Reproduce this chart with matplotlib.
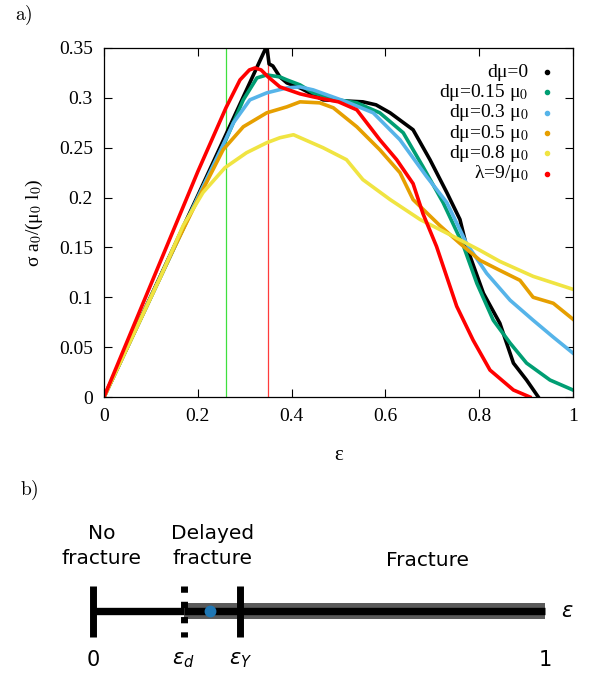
import matplotlib
matplotlib.use("Agg")
import matplotlib.pyplot as plt
from matplotlib.lines import Line2D

# --- panel a) stress-strain curves (read off the figure) ---
eps_d0 = [0, 0.2, 0.347, 0.352, 0.36, 0.375, 0.39, 0.418, 0.467, 0.552, 0.58, 0.61,
          0.659, 0.695, 0.731, 0.759, 0.773, 0.809, 0.844, 0.873, 0.901, 0.926]
sig_d0 = [0, 0.202, 0.352, 0.334, 0.332, 0.321, 0.315, 0.310, 0.298, 0.296, 0.293, 0.285,
          0.268, 0.238, 0.205, 0.178, 0.151, 0.104, 0.074, 0.034, 0.017, 0.0]

eps_d15 = [0, 0.2, 0.26, 0.297, 0.326, 0.347, 0.375, 0.39, 0.418, 0.446, 0.5, 0.539,
           0.588, 0.638, 0.68, 0.723, 0.766, 0.795, 0.83, 0.866, 0.901, 0.951, 1.0]
sig_d15 = [0, 0.2, 0.258, 0.298, 0.32, 0.323, 0.321, 0.318, 0.313, 0.305, 0.298, 0.295,
           0.285, 0.265, 0.231, 0.195, 0.152, 0.114, 0.077, 0.054, 0.034, 0.017, 0.007]

eps_d3 = [0, 0.2, 0.25, 0.276, 0.311, 0.347, 0.39, 0.418, 0.446, 0.517, 0.574, 0.631,
          0.688, 0.731, 0.773, 0.816, 0.866, 0.915, 0.958, 1.0]
sig_d3 = [0, 0.2, 0.249, 0.275, 0.298, 0.305, 0.31, 0.311, 0.308, 0.296, 0.285, 0.258,
          0.221, 0.195, 0.154, 0.124, 0.097, 0.077, 0.06, 0.044]

eps_d5 = [0, 0.15, 0.2, 0.254, 0.297, 0.347, 0.39, 0.418, 0.46, 0.489, 0.539, 0.588,
          0.631, 0.659, 0.716, 0.759, 0.802, 0.844, 0.887, 0.915, 0.958, 1.0]
sig_d5 = [0, 0.15, 0.198, 0.248, 0.271, 0.285, 0.291, 0.296, 0.295, 0.29, 0.271, 0.248,
          0.225, 0.198, 0.172, 0.154, 0.137, 0.127, 0.117, 0.1, 0.094, 0.078]

eps_d8 = [0, 0.12, 0.169, 0.211, 0.258, 0.304, 0.347, 0.375, 0.404, 0.467, 0.517, 0.552,
          0.61, 0.674, 0.745, 0.802, 0.844, 0.915, 1.0]
sig_d8 = [0, 0.12, 0.172, 0.205, 0.23, 0.245, 0.255, 0.26, 0.263, 0.25, 0.238, 0.218,
          0.198, 0.178, 0.161, 0.147, 0.136, 0.121, 0.108]

eps_lam = [0, 0.1, 0.2, 0.26, 0.29, 0.31, 0.322, 0.335, 0.35, 0.375, 0.418, 0.446, 0.5,
           0.539, 0.588, 0.624, 0.659, 0.68, 0.709, 0.752, 0.787, 0.823, 0.873, 0.908]
sig_lam = [0, 0.113, 0.226, 0.29, 0.318, 0.328, 0.330, 0.328, 0.321, 0.311, 0.304, 0.301, 0.296,
           0.288, 0.258, 0.238, 0.214, 0.184, 0.151, 0.091, 0.057, 0.027, 0.007, 0.0]

series = [
    (eps_d0, sig_d0, "dμ=0", "black"),
    (eps_d15, sig_d15, "dμ=0.15 μ$_0$", "#009e73"),
    (eps_d3, sig_d3, "dμ=0.3 μ$_0$", "#56b4e9"),
    (eps_d5, sig_d5, "dμ=0.5 μ$_0$", "#e69f00"),
    (eps_d8, sig_d8, "dμ=0.8 μ$_0$", "#f0e442"),
    (eps_lam, sig_lam, "λ=9/μ$_0$", "#ff0000"),
]
eps_green = 0.26
eps_red = 0.35
xticks = [0, 0.2, 0.4, 0.6, 0.8, 1]
xticklabels = ["0", "0.2", "0.4", "0.6", "0.8", "1"]
yticks = [0, 0.05, 0.1, 0.15, 0.2, 0.25, 0.3, 0.35]
yticklabels = ["0", "0.05", "0.1", "0.15", "0.2", "0.25", "0.3", "0.35"]

# --- panel b) regime diagram ---
regime_ticks = [0, 0.2, 0.325, 1]
regime_ticklabels = ["0", r"$\varepsilon_d$", r"$\varepsilon_Y$", "1"]
eps_point = 0.258
regime_labels = [(0.018, "No\nfracture", 65), (0.263, "Delayed\nfracture", 65),
                 (0.74, "Fracture", 51)]

SERIF = "Liberation Serif"
W, H = 590, 673
fig = plt.figure(figsize=(W / 100, H / 100), dpi=100)

ax = fig.add_axes([104 / W, 1 - 397 / H, 469 / W, 349 / H])
ax.axvline(eps_green, color="#3ee03e", lw=0.9, zorder=1)
ax.axvline(eps_red, color="#ff3b3b", lw=0.9, zorder=1)
for x, y, lab, col in series:
    ax.plot(x, y, color=col, lw=2.6, solid_joinstyle="round", zorder=2)
ax.set_xlim(0, 1)
ax.set_ylim(0, 0.35)
ax.set_xticks(xticks)
ax.set_xticklabels(xticklabels, family=SERIF, fontsize=14)
ax.set_yticks(yticks)
ax.set_yticklabels(yticklabels, family=SERIF, fontsize=14)
ax.tick_params(direction="in", length=6, width=0.8, top=True, right=True, pad=8)
for s in ax.spines.values():
    s.set_linewidth(0.9)
ax.set_xlabel("ε", family=SERIF, fontsize=15, labelpad=15)
ax.set_ylabel("σ a$_0$/(μ$_0$ l$_0$)", family=SERIF, fontsize=14, labelpad=10,
              math_fontfamily="stix")

# gnuplot-style key: right-aligned text, small point after it
for i, (x, y, lab, col) in enumerate(series):
    yy = 0.931 - i * 0.0582
    ax.text(0.905, yy, lab, transform=ax.transAxes, ha="right", va="center",
            family=SERIF, fontsize=14, math_fontfamily="stix")
    ax.add_line(Line2D([0.9446], [yy], transform=ax.transAxes, marker="o", ms=3,
                       color=col, ls="none", clip_on=False))

fig.text(15 / W, 1 - 15 / H, r"$\mathrm{a)}$", fontsize=14, math_fontfamily="cm",
         va="center", ha="left")

# --- panel b ---
ax2 = fig.add_axes([0, 0, 1, 200 / H])
ax2.set_xlim(-93.3 / 451.7, (W - 93.3) / 451.7)
ax2.set_ylim(-62, 138)
ax2.axis("off")
e0, ed, ey, e1 = regime_ticks
ax2.plot([e0, ed], [0, 0], color="black", lw=5.3, solid_capstyle="butt")
ax2.plot([ed, e1], [0, 0], color="#5a5a5a", lw=11.5, solid_capstyle="butt")
ax2.plot([ed, e1], [0, 0], color="black", lw=5.3, solid_capstyle="butt")
ax2.plot([e0, e0], [-26, 25], color="black", lw=5, solid_capstyle="butt")
ax2.plot([ey, ey], [-26, 25], color="black", lw=5, solid_capstyle="butt")
ax2.plot([ed, ed], [25, -26], color="black", lw=5, ls=(0, (0.9, 1.3)),
         dash_capstyle="butt")
ax2.plot([eps_point], [0], "o", color="#1f77b4", ms=7.5)
for xt, lab in zip(regime_ticks, regime_ticklabels):
    ax2.text(xt, -49, lab, ha="center", va="center", fontsize=15)
for xl, lab, yl in regime_labels:
    ax2.text(xl, yl, lab, ha="center", va="center", fontsize=14.5, linespacing=1.35)
ax2.text(1.05, 0, r"$\varepsilon$", ha="center", va="center", fontsize=15)
ax2.text(-0.162, 121, r"$\mathrm{b)}$", fontsize=14, math_fontfamily="cm",
         ha="left", va="center")

fig.savefig("out.png", dpi=100)
